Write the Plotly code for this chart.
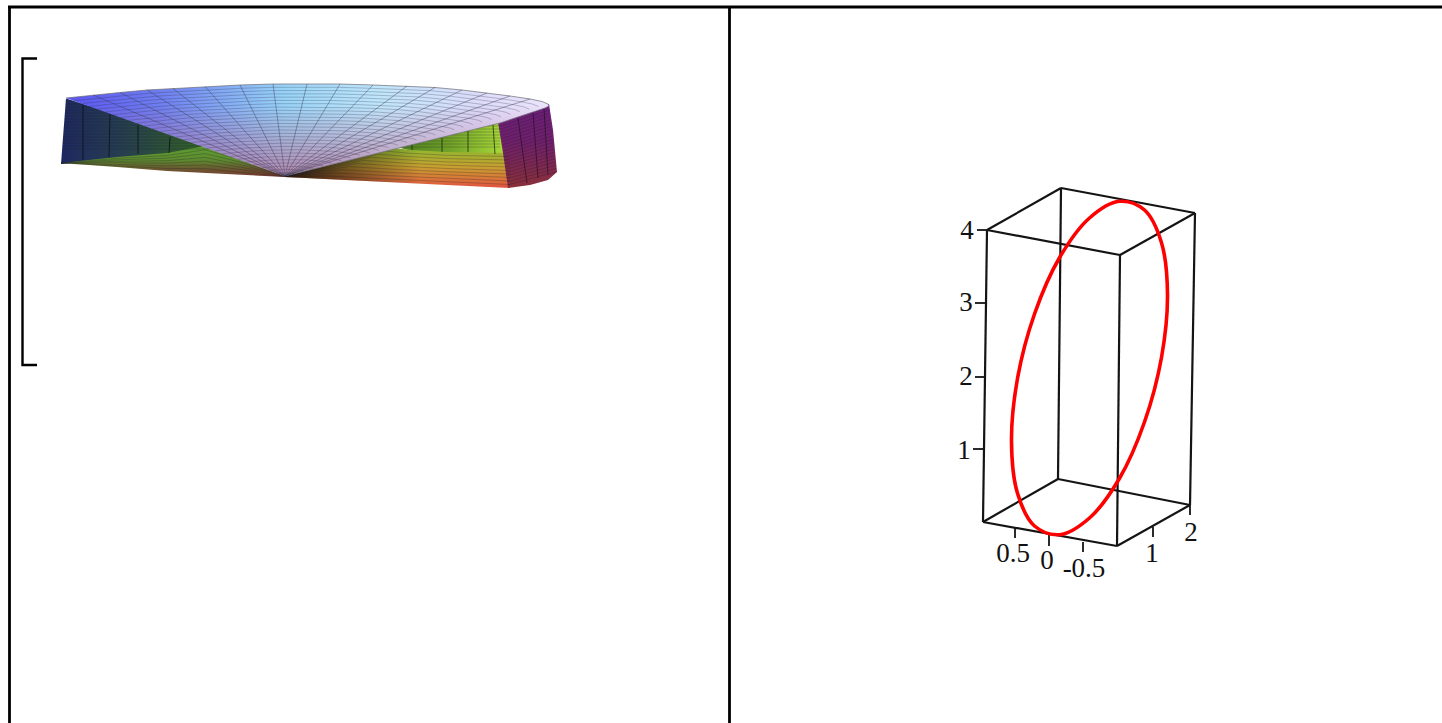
import plotly.graph_objects as go

# ---- left cell: wedge surface, everything read in page pixels ----
apex = (285, 176)

rim_x = [66, 93, 120, 147, 173, 205, 240, 273, 307, 340, 373, 407, 435, 462, 487, 510, 530, 542, 548]
rim_y = [98, 95, 92.5, 90, 88.5, 86.5, 85, 84, 84, 84, 85, 86, 87.5, 90, 93, 96, 99, 101.5, 104]
front_x = [549, 545, 500, 285]
front_y = [106, 108, 123, 176]

wall_l_x = [66, 61, 117, 167, 205, 240, 150]
wall_l_y = [98.5, 164, 158, 154, 151, 156, 125]
floor_l_top_x = [61, 117, 167, 205, 240, 285]
floor_l_top_y = [163, 157, 153, 146, 157, 175]
floor_l_bot_y = [163, 167, 171, 172.5, 174.5, 177]

wall_r_x = [393, 500, 506, 447, 412]
wall_r_y = [146, 120, 155, 153, 151]
floor_r_top_x = [285, 393, 412, 447, 510]
floor_r_top_y = [175, 148, 150, 152, 153]
floor_r_bot_x = [285, 320, 380, 447, 510]
floor_r_bot_y = [177, 179, 182, 185, 188]

purple_x = [498, 545, 549, 553, 556, 557, 548, 530, 508, 503]
purple_y = [122, 105, 104, 130, 157, 172, 180, 185, 188, 153]

wall_l_ribs = [(83, 105, 83, 160), (110, 113, 109, 157), (138, 125, 138, 154), (170, 137, 169, 153)]
wall_r_ribs = [(412, 143, 412, 150), (442, 138, 442, 152), (468, 131, 468, 152), (493, 125, 495, 154)]
purple_ribs = [(518, 118, 527, 183), (533, 113, 538, 178), (544, 109, 548, 175)]

bracket_x = [37, 22.5, 22.5, 37]
bracket_y = [58.5, 58.5, 365, 365]

# ---- right cell: 3d box plot drawn flat ----
curve_x = [1167.5, 1161.5, 1144.5, 1119.4, 1089.5, 1059.6, 1034.5, 1017.5, 1011.5,
           1017.5, 1034.5, 1059.6, 1089.5, 1119.4, 1144.5, 1161.5, 1167.5]
curve_y = [294.5, 242.7, 210, 201.3, 218, 257.5, 314, 378.5, 441.5,
           493.3, 526, 534.7, 518, 478.5, 422, 357.5, 294.5]

box_edges = [
    (987, 230, 1061, 188), (1061, 188, 1195, 213), (1195, 213, 1120, 255), (1120, 255, 987, 230),
    (983, 522, 1058, 479), (1058, 479, 1190, 505), (1190, 505, 1117, 546), (1117, 546, 983, 522),
    (987, 230, 983, 522), (1061, 188, 1058, 479), (1195, 213, 1190, 505), (1120, 255, 1117, 546),
]
tick_edges = [
    (977, 230, 987, 230), (975, 303, 985, 303), (975, 377, 985, 377), (973, 449, 983, 449),
    (1015, 528, 1015, 538), (1049, 535, 1049, 546), (1083, 542, 1083, 552),
    (1153, 527, 1153, 537), (1190, 505, 1190, 515),
]
tick_labels = ["4", "3", "2", "1", "0.5", "0", "-0.5", "1", "2"]
label_x = [967, 966, 966, 964, 1013, 1047, 1084, 1152, 1191]
label_y = [232, 304, 378, 452, 555, 562, 570, 555, 534]

# table rules
rules = [(8, 7, 1442, 7), (9.5, 6, 9.5, 723), (729.5, 6, 729.5, 723)]

fig = go.Figure()


def segs(pairs, color, width):
    xs, ys = [], []
    for x0, y0, x1, y1 in pairs:
        xs += [x0, x1, None]
        ys += [y0, y1, None]
    fig.add_scatter(x=xs, y=ys, mode="lines", line=dict(color=color, width=width), hoverinfo="skip")


def poly(xs, ys, grad_type, start, stop, scale, outline="rgba(0,0,0,0)"):
    fig.add_scatter(x=xs, y=ys, mode="lines", fill="toself", line=dict(color=outline, width=0.8),
                    fillgradient=dict(type=grad_type, start=start, stop=stop, colorscale=scale),
                    hoverinfo="skip")


def blend(x_a, y_a, x_b, y_b, fractions):
    # mesh lines between two read edges
    xs, ys = [], []
    for t in fractions:
        for xa, ya, xb, yb in zip(x_a, y_a, x_b, y_b):
            xs.append(xa + t * (xb - xa))
            ys.append(ya + t * (yb - ya))
        xs.append(None)
        ys.append(None)
    return xs, ys


STRIPE = "rgba(25,25,35,0.36)"
fractions = [i / 28 for i in range(1, 28)]

# walls go first, the top surface covers their upper edges later
poly(wall_l_x, wall_l_y, "horizontal", 61, 235,
     [[0, "#1e2860"], [0.35, "#263e50"], [0.7, "#305a30"], [1, "#3f7020"]])
poly(wall_r_x, wall_r_y, "horizontal", 393, 503,
     [[0, "#4a7a20"], [0.5, "#6fa028"], [1, "#a8d838"]])

poly(floor_l_top_x + floor_l_top_x[::-1], floor_l_top_y + floor_l_bot_y[::-1], "vertical", 149, 177,
     [[0, "#5e9a30"], [0.4, "#5e8a30"], [0.7, "#6a5a30"], [1, "#7a3a30"]])
poly(floor_r_top_x + floor_r_bot_x[::-1], floor_r_top_y + floor_r_bot_y[::-1], "vertical", 149, 188,
     [[0, "#90b830"], [0.45, "#c8a030"], [0.75, "#d87838"], [1, "#e05040"]])
poly(floor_r_top_x + floor_r_bot_x[::-1], floor_r_top_y + floor_r_bot_y[::-1], "horizontal", 285, 420,
     [[0, "rgba(20,15,10,0.9)"], [1, "rgba(20,15,10,0)"]])

# purple end wall
poly(purple_x, purple_y, "vertical", 106, 188, [[0, "#6a1f78"], [0.45, "#70206a"], [1, "#8a3038"]])

# stripes on walls and floors
fx, fy = blend(floor_l_top_x, floor_l_bot_y, floor_l_top_x, floor_l_top_y, [i / 7 for i in range(1, 7)])
fig.add_scatter(x=fx, y=fy, mode="lines", line=dict(color=STRIPE, width=0.7), hoverinfo="skip")
fx, fy = blend(floor_r_bot_x, floor_r_bot_y, floor_r_top_x, floor_r_top_y, [i / 10 for i in range(1, 10)])
fig.add_scatter(x=fx, y=fy, mode="lines", line=dict(color=STRIPE, width=0.7), hoverinfo="skip")
segs([(66 - (y - 98) * 5 / 65, y, 66 + (y - 98) * 219 / 78, y) for y in range(101, 150, 3)], STRIPE, 0.7)
segs([(285 + (176 - y) * 215 / 53, y, 500, y) for y in range(126, 150, 3)], STRIPE, 0.7)
segs([(500 + t * 8, 123 + t * 65, 548 + t * 9, 107 + t * 68) for t in [i / 21 for i in range(1, 21)]], STRIPE, 0.7)

segs(wall_l_ribs, "rgba(10,15,15,0.75)", 1)
segs(wall_r_ribs, "rgba(15,30,10,0.7)", 1)
segs(purple_ribs, "rgba(30,10,30,0.6)", 1)

# top surface
top_x = rim_x + front_x
top_y = rim_y + front_y
poly(top_x, top_y, "horizontal", 66, 550,
     [[0, "#5a54f0"], [0.2, "#6f80f0"], [0.45, "#98d4f8"], [0.65, "#c0e6fb"], [0.85, "#dcdcfa"], [1, "#ece4fc"]])
poly(top_x, top_y, "vertical", 105, 176,
     [[0, "rgba(190,110,150,0)"], [1, "rgba(190,110,150,0.75)"]], "rgba(110,110,120,0.9)")
rx, ry = blend([apex[0]] * len(rim_x), [apex[1]] * len(rim_y), rim_x, rim_y, fractions)
fig.add_scatter(x=rx, y=ry, mode="lines", line=dict(color="rgba(40,40,60,0.38)", width=0.7), hoverinfo="skip")
segs([(apex[0], apex[1], x, y) for x, y in zip(rim_x[1:-2], rim_y[1:-2])], "rgba(60,60,85,0.45)", 1)

# bracket and table rules
fig.add_scatter(x=bracket_x, y=bracket_y, mode="lines", line=dict(color="black", width=2.4), hoverinfo="skip")
segs(rules, "black", 2.8)

# right cell
segs(box_edges, "#141414", 2.2)
segs(tick_edges, "#141414", 1.8)
fig.add_scatter(x=curve_x, y=curve_y, mode="lines", line=dict(color="#ff0000", width=3.6, shape="spline", smoothing=1),
                hoverinfo="skip")
fig.add_scatter(x=label_x, y=label_y, mode="text", text=tick_labels, textposition="middle center",
                textfont=dict(family="Liberation Serif", size=27, color="#111111"), hoverinfo="skip")

fig.update_layout(
    width=1442, height=723, margin=dict(l=0, r=0, t=0, b=0), showlegend=False,
    paper_bgcolor="white", plot_bgcolor="white",
    xaxis=dict(range=[0, 1442], visible=False),
    yaxis=dict(range=[723, 0], visible=False),
)
fig.write_html("out.html", config={"displayModeBar": False},
               post_script="document.body.style.margin='0';document.body.style.overflow='hidden';")
